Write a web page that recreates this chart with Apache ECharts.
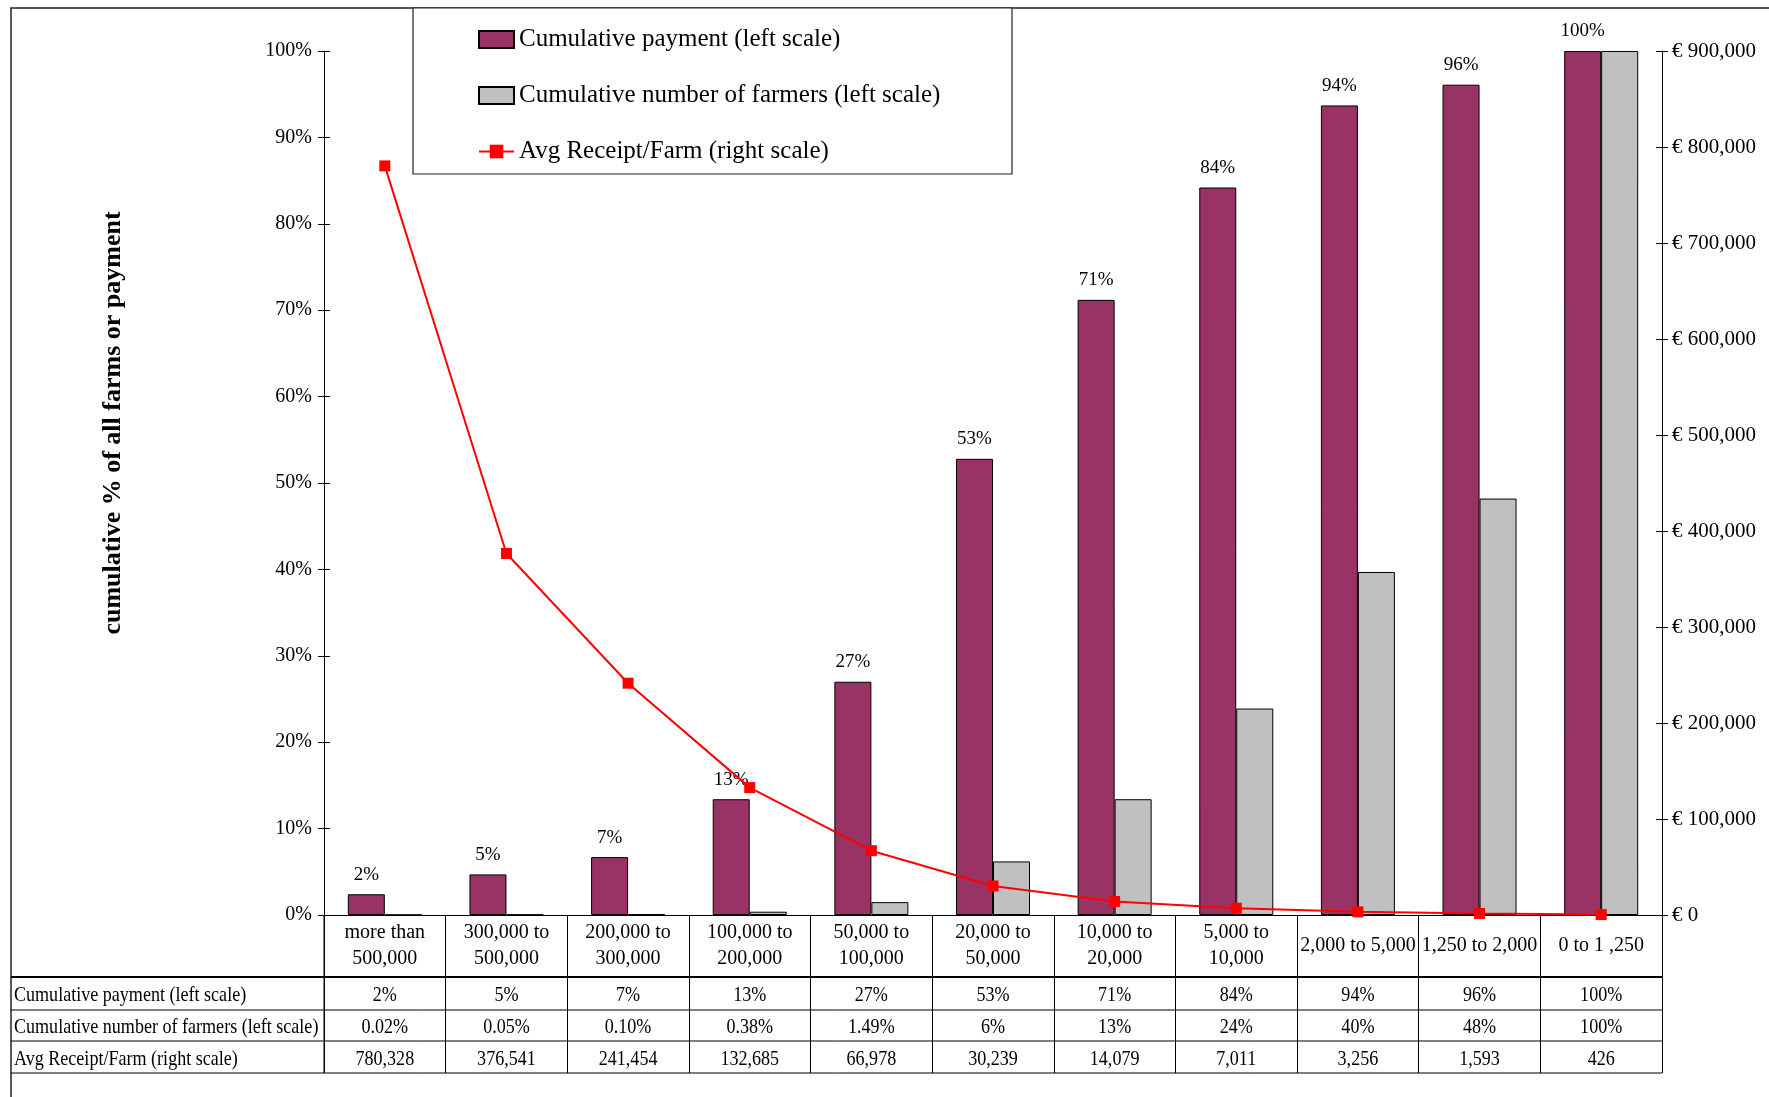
<!DOCTYPE html>
<html><head><meta charset="utf-8">
<script src="https://cdn.jsdelivr.net/npm/echarts@6/dist/echarts.min.js"></script>
<style>html,body{margin:0;padding:0;background:#fff}#c{width:1769px;height:1097px}</style>
</head><body><div id="c"></div>
<script>
const categories = ['more than\n500,000','300,000 to\n500,000','200,000 to\n300,000','100,000 to\n200,000','50,000 to\n100,000','20,000 to\n50,000','10,000 to\n20,000','5,000 to\n10,000','2,000 to 5,000','1,250 to 2,000','0 to 1 ,250'];
const cumPayment = [2.4, 4.7, 6.7, 13.4, 27.0, 52.8, 71.2, 84.2, 93.7, 96.1, 100];
const cumFarmers = [0.02, 0.05, 0.10, 0.38, 1.49, 6.2, 13.4, 23.9, 39.7, 48.2, 100];
const avgReceipt = [780328, 376541, 241454, 132685, 66978, 30239, 14079, 7011, 3256, 1593, 426];
const farmersText = ['0.02%','0.05%','0.10%','0.38%','1.49%','6%','13%','24%','40%','48%','100%'];
const leftTicks = {min: 0, max: 100, interval: 10};
const rightTicks = {min: 0, max: 900000, interval: 100000};
const names = ['Cumulative payment (left scale)','Cumulative number of farmers (left scale)','Avg Receipt/Farm (right scale)'];

const FONT = '"Liberation Serif", "Times New Roman", serif';
const chart = echarts.init(document.getElementById('c'), null, {renderer: 'canvas'});
const fmtEuro = v => '€ ' + Number(v).toLocaleString('en-US');

const option = {
  animation: false,
  backgroundColor: '#fff',
  textStyle: {fontFamily: FONT, color: '#000'},
  grid: {left: 324, right: 107, top: 51, bottom: 182, containLabel: false},
  legend: {
    orient: 'vertical', left: 473, top: 22, itemWidth: 35, itemHeight: 17, itemGap: 31, itemStyle: {},
    textStyle: {fontFamily: FONT, fontSize: 25, color: '#000', lineHeight: 24},
    data: [{name: names[0], icon: 'rect'}, {name: names[1], icon: 'rect'}, {name: names[2]}]
  },
  xAxis: {
    type: 'category', data: categories,
    axisLine: {show: true, lineStyle: {color: '#000', width: 1}},
    axisTick: {show: true, length: 158, lineStyle: {color: '#000', width: 1}},
    axisLabel: {interval: 0, fontFamily: FONT, fontSize: 20, color: '#000', lineHeight: 26, verticalAlign: 'middle', margin: 31}
  },
  yAxis: [
    {type: 'value', position: 'left', ...leftTicks,
     axisLine: {show: true, lineStyle: {color: '#000'}},
     axisTick: {show: true, length: 6, lineStyle: {color: '#000'}},
     axisLabel: {formatter: '{value}%', fontFamily: FONT, fontSize: 20, color: '#000', margin: 12},
     splitLine: {show: false}},
    {type: 'value', position: 'right', ...rightTicks,
     axisLine: {show: true, lineStyle: {color: '#000'}},
     axisTick: {show: true, length: 6, lineStyle: {color: '#000'}},
     axisLabel: {formatter: fmtEuro, fontFamily: FONT, fontSize: 21, color: '#000', margin: 10},
     splitLine: {show: false}},
    {type: 'value', position: 'left', ...leftTicks,
     axisLine: {show: false}, axisLabel: {show: false}, splitLine: {show: false},
     axisTick: {show: true, inside: true, length: 6, lineStyle: {color: '#000'}}},
    {type: 'value', position: 'right', ...rightTicks,
     axisLine: {show: false}, axisLabel: {show: false}, splitLine: {show: false},
     axisTick: {show: true, inside: true, length: 6, lineStyle: {color: '#000'}}}
  ],
  series: [
    {name: names[0], type: 'bar', yAxisIndex: 0, data: cumPayment, barWidth: 37, barGap: '0%',
     itemStyle: {color: '#993366', borderColor: '#000', borderWidth: 1},
     label: {show: true, position: 'top', distance: 10, fontFamily: FONT, fontSize: 19, color: '#000',
             formatter: p => Math.round(p.value) + '%'}},
    {name: names[1], type: 'bar', yAxisIndex: 0, data: cumFarmers, barWidth: 37, barGap: '0%',
     itemStyle: {color: '#C0C0C0', borderColor: '#000', borderWidth: 1}},
    {name: names[2], type: 'line', yAxisIndex: 1, data: avgReceipt, z: 5,
     symbol: 'rect', symbolSize: 11, lineStyle: {color: '#FF0000', width: 2},
     itemStyle: {color: '#FF0000'}}
  ]
};
chart.setOption(option);

// table built from data through the category scale
const xs = categories.map((_, i) => chart.convertToPixel({xAxisIndex: 0}, i));
const band = xs[1] - xs[0];
const leftX = xs[0] - band / 2, rightX = xs[xs.length - 1] + band / 2;
const rowLines = [977, 1010, 1041, 1073];
const rowHeaders = names;
const rowValues = [
  cumPayment.map(v => Math.round(v) + '%'),
  farmersText,
  avgReceipt.map(v => v.toLocaleString('en-US'))
];
const g = [];
g.push({type: 'rect', z: -1, shape: {x: 11, y: 8, width: 2000, height: 2000}, style: {fill: 'none', stroke: '#222', lineWidth: 1.5}});
g.push({type: 'rect', z: 1, shape: {x: 413, y: 8, width: 599, height: 166}, style: {fill: '#fff', stroke: '#222', lineWidth: 1.2}});
rowLines.forEach((y, k) => g.push({type: 'line', shape: {x1: 11, y1: y, x2: rightX, y2: y}, style: {stroke: '#000', lineWidth: k === 0 ? 2 : 1}}));
g.push({type: 'line', shape: {x1: leftX, y1: 915, x2: leftX, y2: 1073}, style: {stroke: '#000', lineWidth: 1}});
const SX = 0.86;
for (let r = 0; r < 3; r++) {
  const cy = (rowLines[r] + rowLines[r + 1]) / 2 + 2;
  g.push({type: 'text', x: 14, y: cy, scaleX: SX, style: {text: rowHeaders[r], font: '21px ' + FONT, fill: '#000', align: 'left', verticalAlign: 'middle'}});
  rowValues[r].forEach((t, i) => g.push({type: 'text', x: xs[i], y: cy, scaleX: SX, style: {text: t, font: '21px ' + FONT, fill: '#000', align: 'center', verticalAlign: 'middle'}}));
}
g.push({type: 'text', x: 113, y: 423, rotation: Math.PI / 2,
  style: {text: 'cumulative % of all farms or payment', font: 'bold 26px ' + FONT, fill: '#000', align: 'center', verticalAlign: 'middle'}});
chart.setOption({graphic: g});
</script></body></html>
